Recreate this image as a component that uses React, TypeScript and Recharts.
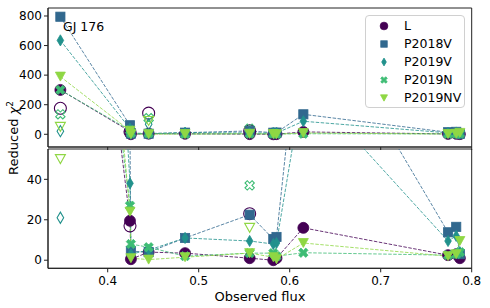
import React from 'react';
import { ComposedChart, Line, Scatter, XAxis, YAxis, Legend, CartesianGrid } from 'recharts';

// observed flux of each epoch
const FLUX = [0.348, 0.4245, 0.4255, 0.445, 0.485, 0.556, 0.582, 0.5855, 0.615, 0.774, 0.783, 0.787];

// reduced chi^2 per model (filled markers, joined by dashed lines)
const L_CHI = [300, 19.5, 0.5, 4, 3.5, 1, 0, 1, 16, 2.5, 3, 1];
const P2018V_CHI = [795, 61, 4.5, 4, 11, 22.5, 10.5, 11.5, 135, 13.8, 16.5, 3];
const P2019V_CHI = [635, 38, 3, 5, 11, 9.5, 8, 8.5, 88, 9.5, 12, 4];
const P2019N_CHI = [300, 27, 8, 6.4, 2, 3.5, 3.5, 2, 3.7, 2.5, 3, 4];
const P2019NV_CHI = [390, 24, 1, 0.3, 1.5, 3.5, 1.5, 0.5, 8.5, 2, 3, 9.5];

// open markers (no line)
const L_OPEN_FLUX = [0.348, 0.4245, 0.445, 0.556];
const L_OPEN_CHI = [176, 17, 143, 23];
const P2019V_OPEN_FLUX = [0.348, 0.445];
const P2019V_OPEN_CHI = [21, 68];
const P2019N_OPEN_FLUX = [0.348, 0.445, 0.556];
const P2019N_OPEN_CHI = [135, 109, 37];
const P2019NV_OPEN_FLUX = [0.348, 0.445, 0.556];
const P2019NV_OPEN_CHI = [50, 90, 16];

const X_TICKS = [0.4, 0.5, 0.6, 0.7, 0.8];
const TOP_TICKS = [0, 200, 400, 600, 800];
const BOTTOM_TICKS = [0, 20, 40];

const X_DOMAIN = [0.3344, 0.8];
const TOP_DOMAIN = [-86, 854];
const BOTTOM_DOMAIN = [-4, 55];

const FONT = 'DejaVu Sans, sans-serif';
const AXIS = '#222';
const TICK = { fill: '#000', fontSize: 12, fontFamily: FONT };

const SERIES = [
  { name: 'L', color: '#440154', shape: 'circle', chi: L_CHI, openFlux: L_OPEN_FLUX, openChi: L_OPEN_CHI },
  { name: 'P2018V', color: '#31688e', shape: 'square', chi: P2018V_CHI, openFlux: [], openChi: [] },
  { name: 'P2019V', color: '#21918c', shape: 'diamond', chi: P2019V_CHI, openFlux: P2019V_OPEN_FLUX, openChi: P2019V_OPEN_CHI },
  { name: 'P2019N', color: '#3dbc74', shape: 'x', chi: P2019N_CHI, openFlux: P2019N_OPEN_FLUX, openChi: P2019N_OPEN_CHI },
  { name: 'P2019NV', color: '#8fd744', shape: 'triangle', chi: P2019NV_CHI, openFlux: P2019NV_OPEN_FLUX, openChi: P2019NV_OPEN_CHI },
];

const rows = FLUX.map((flux, i) => {
  const row: Record<string, number> = { flux };
  SERIES.forEach((s) => { row[s.name] = s.chi[i]; });
  return row;
});

const openRows = (s: any) => s.openFlux.map((flux: number, i: number) => ({ flux, value: s.openChi[i] }));

// filled "X" marker outline
const xPoints = (cx: number, cy: number, s: number, a: number) => {
  const pts = [[-a, -s], [a, -s], [a, -a], [s, -a], [s, a], [a, a], [a, s], [-a, s], [-a, a], [-s, a], [-s, -a], [-a, -a]];
  const r = Math.SQRT1_2;
  return pts.map(([x, y]) => `${cx + (x - y) * r},${cy + (x + y) * r}`).join(' ');
};

const Marker = ({ shape, cx, cy, color, open, k = 1 }: any) => {
  const p = { fill: open ? 'none' : color, stroke: color, strokeWidth: open ? 1.1 : 0.8 };
  if (shape === 'circle') return <circle cx={cx} cy={cy} r={(open ? 6 : 5.5) * k} {...p} />;
  if (shape === 'square') {
    const h = 4.6 * k;
    return <rect x={cx - h} y={cy - h} width={2 * h} height={2 * h} {...p} />;
  }
  if (shape === 'diamond') {
    const w = 3.3 * k, h = 5.6 * k;
    return <polygon points={`${cx},${cy - h} ${cx + w},${cy} ${cx},${cy + h} ${cx - w},${cy}`} {...p} />;
  }
  if (shape === 'triangle') {
    const w = 5 * k;
    return <polygon points={`${cx - w},${cy - w * 0.9} ${cx + w},${cy - w * 0.9} ${cx},${cy + w * 0.9}`} {...p} />;
  }
  return <polygon points={xPoints(cx, cy, 5 * k, 1.6 * k)} {...p} />;
};

const makeDot = (s: any) => (props: any) => {
  const { cx, cy, index } = props;
  if (cx == null || cy == null || Number.isNaN(cy)) return <g key={`e-${index}`} />;
  return <Marker key={`d-${index}`} shape={s.shape} cx={cx} cy={cy} color={s.color} />;
};

const renderSeries = () =>
  SERIES.flatMap((s) => [
    <Line
      key={`line-${s.name}`}
      dataKey={s.name}
      type="linear"
      stroke={s.color}
      strokeWidth={1}
      strokeOpacity={0.8}
      strokeDasharray="3.5 1.5"
      dot={makeDot(s)}
      activeDot={false}
      isAnimationActive={false}
    />,
    <Scatter
      key={`open-${s.name}`}
      data={openRows(s)}
      dataKey="value"
      shape={(p: any) => <Marker shape={s.shape} cx={p.cx} cy={p.cy} color={s.color} open />}
      isAnimationActive={false}
    />,
  ]);

// box around the plotting area, taken from the chart's own offset
const Frame = () => (
  <CartesianGrid
    stroke={AXIS}
    strokeWidth={1}
    fill="none"
    horizontalCoordinatesGenerator={({ offset }: any) => [offset.top, offset.top + offset.height]}
    verticalCoordinatesGenerator={({ offset }: any) => [offset.left, offset.left + offset.width]}
  />
);

const LegendBox = () => (
  <div
    style={{
      position: 'relative',
      width: 100,
      height: 93,
      boxSizing: 'border-box',
      border: '1px solid #d0d0d0',
      borderRadius: 4,
      background: 'rgba(255,255,255,0.85)',
      fontFamily: FONT,
      fontSize: 12.5,
    }}
  >
    {SERIES.map((s, i) => (
      <div key={s.name} style={{ position: 'absolute', left: 0, top: 1 + i * 18, height: 18, width: 100 }}>
        <svg width={30} height={18} style={{ position: 'absolute', left: 3, top: 0 }}>
          <Marker shape={s.shape} cx={15} cy={9} color={s.color} k={0.7} />
        </svg>
        <span style={{ position: 'absolute', left: 38, top: 1, lineHeight: '16px', color: '#000' }}>{s.name}</span>
      </div>
    ))}
  </div>
);

export default function App() {
  return (
    <div style={{ position: 'absolute', left: 0, top: 0, width: 490, height: 308, background: '#fff' }}>
      {/* lower panel, with the shared x axis */}
      <div style={{ position: 'absolute', left: 0, top: 0 }}>
        <ComposedChart width={490} height={308} data={rows} margin={{ top: 149, right: 18.3, bottom: 9.7, left: 0 }}>
          {Frame()}
          <XAxis
            dataKey="flux"
            type="number"
            domain={X_DOMAIN}
            allowDataOverflow
            ticks={X_TICKS}
            interval={0}
            tickFormatter={(v: number) => v.toFixed(1)}
            height={30}
            tickSize={4}
            tickMargin={4}
            tick={TICK}
            stroke={AXIS}
          />
          <YAxis
            type="number"
            domain={BOTTOM_DOMAIN}
            allowDataOverflow
            ticks={BOTTOM_TICKS}
            interval={0}
            width={48}
            tickSize={4}
            tickMargin={2}
            tick={TICK}
            stroke={AXIS}
          />
          {renderSeries()}
        </ComposedChart>
      </div>

      {/* upper panel */}
      <div style={{ position: 'absolute', left: 0, top: 0 }}>
        <ComposedChart width={490} height={150} data={rows} margin={{ top: 8, right: 18.3, bottom: 2, left: 0 }}>
          {Frame()}
          <XAxis
            dataKey="flux"
            type="number"
            domain={X_DOMAIN}
            allowDataOverflow
            ticks={X_TICKS}
            interval={0}
            tickFormatter={() => ''}
            height={1}
            tickSize={4}
            stroke={AXIS}
          />
          <YAxis
            type="number"
            domain={TOP_DOMAIN}
            allowDataOverflow
            ticks={TOP_TICKS}
            interval={0}
            width={48}
            tickSize={4}
            tickMargin={2}
            tick={TICK}
            stroke={AXIS}
          />
          {renderSeries()}
          <Legend
            layout="horizontal"
            verticalAlign="middle"
            align="center"
            wrapperStyle={{ position: 'absolute', left: 365, top: 15, width: 100, height: 93, right: 'auto', bottom: 'auto' }}
            content={() => <LegendBox />}
          />
        </ComposedChart>
      </div>

      {/* free text */}
      <svg width={490} height={308} style={{ position: 'absolute', left: 0, top: 0, pointerEvents: 'none' }}>
        <text x={63} y={30.5} fontFamily={FONT} fontSize={12.5} fill="#000">GJ 176</text>
        <text x={260} y={300.5} textAnchor="middle" fontFamily={FONT} fontSize={13} fill="#000">Observed flux</text>
        <text transform="translate(17.5,138) rotate(-90)" textAnchor="middle" fontFamily={FONT} fontSize={13} fill="#000">
          Reduced <tspan fontStyle="italic">χ</tspan>
          <tspan fontSize={9} dy={-5}>2</tspan>
        </text>
      </svg>
    </div>
  );
}
